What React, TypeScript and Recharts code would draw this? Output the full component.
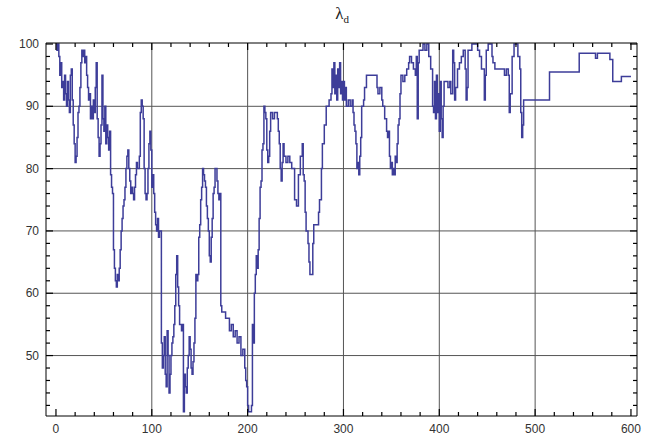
import React from 'react';
import { LineChart, Line, XAxis, YAxis, ReferenceLine } from 'recharts';

// Step positions (x) and lambda_d values (%)
const stepX: number[] = [
  0, 1, 2, 3, 4, 5, 6, 7, 8, 9, 10, 11, 12, 13, 14, 15, 16, 17, 18, 19, 20, 21, 22, 23, 24, 25, 26, 27, 28, 29,
  30, 31, 32, 33, 34, 35, 36, 37, 38, 39, 40, 41, 42, 43, 44, 45, 46, 47, 48, 49, 50, 51, 52, 53, 54, 55, 56, 57, 58,
  59, 60, 61, 62, 63, 64, 65, 66, 67, 68, 69, 70, 71, 72, 73, 74, 75, 76, 77, 78, 79, 80, 81, 82, 83, 84, 85, 86, 87,
  88, 89, 90, 91, 92, 93, 94, 95, 96, 97, 98, 99, 100, 101, 102, 103, 104, 105, 106, 107, 108, 109,
  110, 111, 112, 113, 114, 115, 116, 117, 118, 119, 120, 121, 122, 123, 124, 125, 126, 127, 128, 129, 130, 131, 132,
  133, 134, 135, 136, 137, 138, 139, 140, 141, 142, 143, 144, 145, 146, 147, 148, 149, 150, 151, 152, 153, 154, 155,
  156, 157, 158, 159, 160, 161, 162, 163, 164, 165, 166, 167, 168, 169, 170, 171, 172, 173, 175, 177, 179, 181, 183,
  185, 187, 189, 191, 193, 195, 197, 198, 199, 200, 201, 202, 203, 204,
  205, 206, 207, 208, 209, 210, 211, 212, 213, 214, 215, 216, 217, 218, 219, 220, 221, 222, 223, 224, 226, 228, 230,
  231, 232, 233, 234, 235, 236, 237, 238, 240, 242, 244, 246, 248, 249, 251, 253, 255, 257, 258, 259, 260, 261, 262,
  263, 264, 265, 267, 268, 269, 271, 273, 274, 275, 277, 278, 280, 282, 284, 285, 287, 288, 289, 290, 291, 292, 293,
  294, 295, 296, 297, 298, 299, 300, 301, 302, 303, 305, 307, 309,
  310, 311, 312, 313, 314, 315, 316, 317, 318, 319, 321, 322, 324, 326, 328, 330, 332, 334, 335, 336, 338, 340, 341,
  343, 345, 346, 347, 348, 349, 350, 351, 352, 353, 354, 355, 356, 357, 358, 359, 360, 362, 364, 366, 368, 369, 371,
  373, 375, 376, 377, 378, 379, 381, 383, 385, 387, 389, 391, 393, 394, 395, 396,
  397, 398, 399, 400, 401, 402, 403, 404, 405, 407, 409, 411, 412, 414, 415, 416, 417, 419, 421, 423, 425, 427, 428,
  429, 430, 432, 434, 436, 438, 440, 442, 444, 446, 447, 448, 449, 451, 453, 455, 456, 458, 460, 462, 464, 466, 468,
  470, 472, 473, 474, 476, 478, 480, 482, 484, 485, 486, 487, 488, 515, 546, 563, 565, 578, 581, 590, 600,
];

const lambdaD: number[] = [
  100, 99, 100, 98, 95, 97, 93, 94, 91, 95, 92, 90, 94, 91, 89, 95, 96, 91, 87, 84, 81, 82, 85, 89, 90, 93, 97, 99, 98, 99,
  97, 98, 95, 93, 91, 92, 88, 90, 88, 91, 89, 93, 97, 88, 85, 82, 84, 87, 95, 88, 86, 90, 84, 87, 85, 83, 86, 79, 77,
  76, 67, 64, 62, 61, 63, 62, 64, 67, 70, 72, 74, 75, 77, 80, 82, 83, 80, 78, 76, 77, 76, 75, 77, 79, 81, 80, 80, 82,
  89, 91, 90, 88, 80, 76, 75, 76, 80, 84, 86, 83, 77, 79, 76, 73, 71, 70, 72, 69, 70, 70,
  52, 48, 50, 53, 47, 45, 54, 50, 44, 47, 50, 52, 53, 55, 58, 63, 66, 61, 58, 55, 55, 54, 55,
  41, 47, 45, 44, 48, 50, 53, 51, 48, 47, 49, 52, 56, 63, 62, 63, 69, 71, 75, 77, 80, 79, 78,
  77, 74, 72, 70, 66, 65, 69, 72, 76, 77, 80, 80, 78, 76, 75, 76, 58, 57, 57, 56, 56, 54, 55,
  53, 54, 52, 53, 50, 51, 48, 46, 45, 42, 41, 41, 41, 42,
  55, 52, 60, 63, 66, 64, 67, 72, 77, 78, 83, 84, 90, 89, 88, 83, 81, 82, 86, 89, 88, 89, 89,
  88, 86, 84, 80, 78, 81, 84, 82, 81, 82, 81, 80, 80, 75, 74, 79, 82, 84, 79, 78, 73, 70, 70,
  68, 65, 63, 63, 68, 71, 71, 71, 73, 75, 80, 84, 87, 90, 90, 91, 92, 96, 93, 97, 92, 95, 91,
  96, 93, 97, 92, 94, 91, 94, 91, 93, 90, 91, 90, 91,
  89, 87, 86, 84, 80, 81, 79, 82, 85, 90, 91, 93, 95, 95, 95, 95, 95, 95, 93, 92, 93, 91, 90,
  88, 86, 85, 86, 82, 80, 81, 79, 80, 79, 82, 81, 84, 87, 88, 92, 95, 94, 95, 96, 97, 98, 97,
  96, 95, 98, 88, 97, 99, 99, 100, 99, 100, 98, 96, 90, 89, 94, 88,
  95, 89, 92, 86, 94, 88, 85, 90, 94, 94, 93, 94, 92, 99, 97, 91, 93, 96, 97, 98, 99, 96, 91,
  93, 99, 99, 100, 100, 100, 99, 98, 96, 96, 91, 95, 99, 100, 100, 98, 97, 96, 96, 96, 96, 96, 95,
  96, 95, 89, 92, 98, 100, 100, 98, 96, 89, 85, 87, 91, 95.5, 98.5, 97.7, 98.5, 97.5, 94, 94.8, 94.8,
];

const xMajorTicks: number[] = [0, 100, 200, 300, 400, 500, 600];
const xMinorTicks: number[] = [
  0, 20, 40, 60, 80, 100, 120, 140, 160, 180, 200, 220, 240, 260, 280, 300, 320, 340, 360, 380, 400, 420, 440, 460,
  480, 500, 520, 540, 560, 580, 600,
];
const yMajorTicks: number[] = [50, 60, 70, 80, 90, 100];
const yMinorTicks: number[] = [
  42, 44, 46, 48, 50, 52, 54, 56, 58, 60, 62, 64, 66, 68, 70, 72, 74, 76, 78, 80, 82, 84, 86, 88, 90, 92, 94, 96, 98, 100,
];
const xGrid: number[] = [100, 200, 300, 400, 500];
const yGrid: number[] = [50, 60, 70, 80, 90];

const data = stepX.map((x, i) => ({ x, y: lambdaD[i] }));

const FONT = 'Liberation Sans, DejaVu Sans, sans-serif';

const LeftTick = (props: any) => {
  const { x, y, payload } = props;
  const v = payload.value;
  const major = yMajorTicks.includes(v);
  return (
    <g>
      <line x1={x} y1={y} x2={x + (major ? 7 : 4)} y2={y} stroke="#000" strokeWidth={1.2} />
      {major && (
        <text x={x - 7} y={y} dy={4} textAnchor="end" fontSize={12} fill="#333" fontFamily={FONT}>
          {v}
        </text>
      )}
    </g>
  );
};

const RightTick = (props: any) => {
  const { x, y, payload } = props;
  const major = yMajorTicks.includes(payload.value);
  return <line x1={x} y1={y} x2={x - (major ? 7 : 4)} y2={y} stroke="#000" strokeWidth={1.2} />;
};

const BottomTick = (props: any) => {
  const { x, y, payload } = props;
  const v = payload.value;
  const major = xMajorTicks.includes(v);
  return (
    <g>
      <line x1={x} y1={y} x2={x} y2={y - (major ? 7 : 4)} stroke="#000" strokeWidth={1.2} />
      {major && (
        <text x={x} y={y + 17} textAnchor="middle" fontSize={12} fill="#333" fontFamily={FONT}>
          {v}
        </text>
      )}
    </g>
  );
};

const TopTick = (props: any) => {
  const { x, y, payload } = props;
  const major = xMajorTicks.includes(payload.value);
  return <line x1={x} y1={y} x2={x} y2={y + (major ? 7 : 4)} stroke="#000" strokeWidth={1.2} />;
};

const X_DOMAIN: [number, number] = [-10.4, 606.3];
const Y_DOMAIN: [number, number] = [40.3, 100.16];

export default function App() {
  return (
    <div style={{ position: 'absolute', left: 0, top: 0, width: 646, height: 446, background: '#fff' }}>
      <div
        style={{
          position: 'absolute',
          left: 0,
          top: 4,
          width: 684,
          textAlign: 'center',
          fontFamily: 'Liberation Serif, DejaVu Serif, serif',
          fontSize: 17,
          color: '#222',
          lineHeight: '20px',
        }}
      >
        <span>λ</span>
        <span style={{ fontSize: 11, position: 'relative', top: 4 }}>d</span>
      </div>
      <LineChart width={646} height={446} data={data} margin={{ top: 42, right: 8, bottom: 0, left: 0 }}>
        <XAxis
          dataKey="x"
          type="number"
          domain={X_DOMAIN}
          allowDataOverflow
          ticks={xMinorTicks}
          interval={0}
          tickSize={0}
          tickMargin={0}
          tickLine={false}
          height={30}
          axisLine={{ stroke: '#000' }}
          tick={<BottomTick />}
        />
        <XAxis
          xAxisId="top"
          orientation="top"
          dataKey="x"
          type="number"
          domain={X_DOMAIN}
          allowDataOverflow
          ticks={xMinorTicks}
          interval={0}
          tickSize={0}
          tickMargin={0}
          tickLine={false}
          height={1}
          axisLine={{ stroke: '#000' }}
          tick={<TopTick />}
        />
        <YAxis
          type="number"
          domain={Y_DOMAIN}
          allowDataOverflow
          ticks={yMinorTicks}
          interval={0}
          tickSize={0}
          tickMargin={0}
          tickLine={false}
          width={46}
          axisLine={{ stroke: '#000' }}
          tick={<LeftTick />}
        />
        <YAxis
          yAxisId="right"
          orientation="right"
          type="number"
          domain={Y_DOMAIN}
          allowDataOverflow
          ticks={yMinorTicks}
          interval={0}
          tickSize={0}
          tickMargin={0}
          tickLine={false}
          width={1}
          axisLine={{ stroke: '#000' }}
          tick={<RightTick />}
        />
        {xGrid.map((g) => (
          <ReferenceLine key={'gx' + g} x={g} stroke="#555" strokeWidth={1} />
        ))}
        {yGrid.map((g) => (
          <ReferenceLine key={'gy' + g} y={g} stroke="#555" strokeWidth={1} />
        ))}
        <Line
          type="stepAfter"
          dataKey="y"
          stroke="#3d3d99"
          strokeWidth={1.5}
          dot={false}
          isAnimationActive={false}
        />
      </LineChart>
    </div>
  );
}
